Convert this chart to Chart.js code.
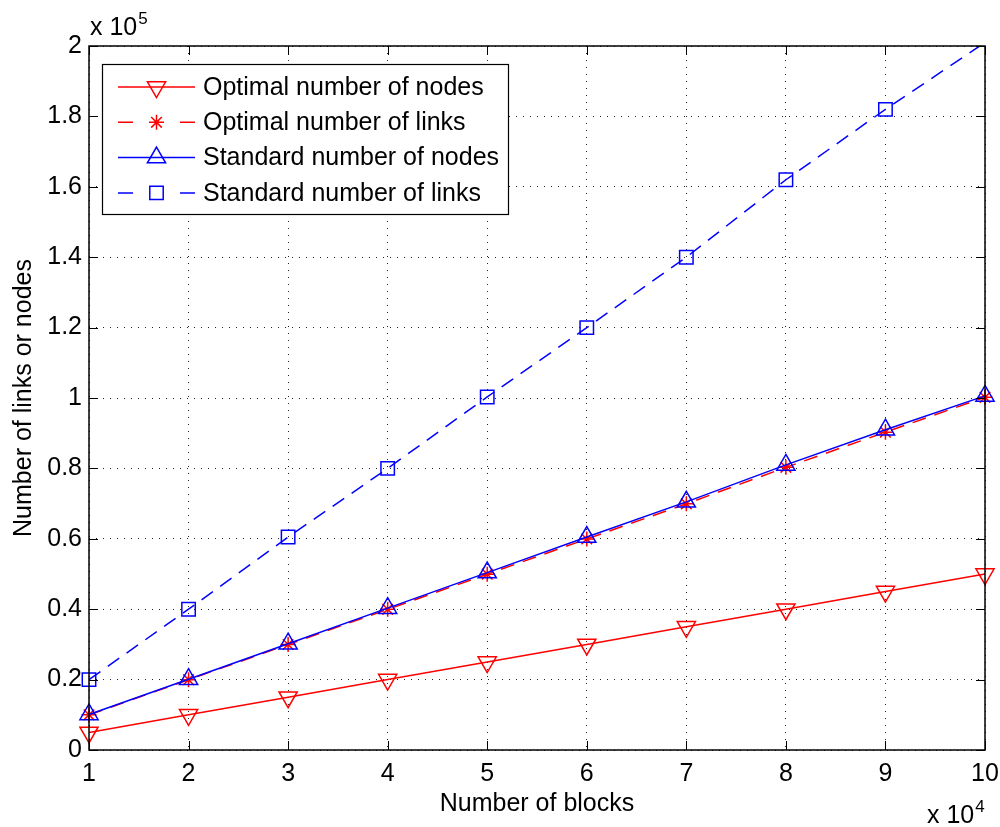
<!DOCTYPE html>
<html>
<head>
<meta charset="utf-8">
<script src="https://cdn.jsdelivr.net/npm/chart.js@4/dist/chart.umd.min.js"></script>
<style>
html,body{margin:0;padding:0;background:#ffffff;}
#wrap{width:1000px;height:827px;}
</style>
</head>
<body>
<div id="wrap"><canvas id="c" width="1000" height="827"></canvas></div>
<script>
// ---- data ----
const blocks        = [10000, 20000, 30000, 40000, 50000, 60000, 70000, 80000, 90000, 100000];
const optimalNodes  = [5000, 10000, 15000, 20000, 25000, 30000, 35000, 40000, 45000, 50000];
const optimalLinks  = [9990, 19980, 29970, 39960, 49950, 59940, 69930, 80300, 90300, 100200];
const standardNodes = [10100, 20100, 30200, 40300, 50400, 60500, 70500, 81000, 91000, 100600];
const standardLinks = [20000, 40000, 60500, 80000, 100300, 120000, 140000, 162000, 182000, 201000];
const seriesLabels  = ['Optimal number of nodes', 'Optimal number of links', 'Standard number of nodes', 'Standard number of links'];
const xTickLabels   = ['1', '2', '3', '4', '5', '6', '7', '8', '9', '10'];
const yTickLabels   = ['0', '0.2', '0.4', '0.6', '0.8', '1', '1.2', '1.4', '1.6', '1.8', '2'];
const xTitle = 'Number of blocks';
const yTitle = 'Number of links or nodes';
const xExponent = '4';
const yExponent = '5';

const X_MIN = 10000, X_MAX = 100000, X_STEP = 10000;
const Y_MIN = 0, Y_MAX = 200000, Y_STEP = 20000;

const FONT = "'Liberation Sans', Arial, Helvetica, sans-serif";
const FS = 25;
const RED = '#ff0000', BLUE = '#0000ff';

function pts(ys) { return blocks.map((x, i) => ({x: x, y: ys[i]})); }
function radiusFor(r) {
  return (ctx) => (ctx.raw && (ctx.raw.y > Y_MAX || ctx.raw.y < Y_MIN)) ? 0 : r;
}
const CLIP = {left: 25, right: 25, top: 0, bottom: 25};

const datasets = [
  {label: seriesLabels[0], data: pts(optimalNodes), borderColor: RED, borderWidth: 1.5, borderDash: [],
   pointStyle: 'triangle', pointRotation: 180, pointRadius: radiusFor(10.5), pointBorderWidth: 1.5,
   pointBorderColor: RED, pointBackgroundColor: 'rgba(0,0,0,0)', order: 4, clip: CLIP},
  {label: seriesLabels[1], data: pts(optimalLinks), borderColor: RED, borderWidth: 1.5, borderDash: [14, 9],
   pointStyle: 'star', pointRotation: 0, pointRadius: radiusFor(7.5), pointBorderWidth: 1.5,
   pointBorderColor: RED, pointBackgroundColor: 'rgba(0,0,0,0)', order: 3, clip: CLIP},
  {label: seriesLabels[2], data: pts(standardNodes), borderColor: BLUE, borderWidth: 1.5, borderDash: [],
   pointStyle: 'triangle', pointRotation: 0, pointRadius: radiusFor(10.5), pointBorderWidth: 1.5,
   pointBorderColor: BLUE, pointBackgroundColor: 'rgba(0,0,0,0)', order: 2, clip: CLIP},
  {label: seriesLabels[3], data: pts(standardLinks), borderColor: BLUE, borderWidth: 1.5, borderDash: [14, 9],
   pointStyle: 'rect', pointRotation: 0, pointRadius: radiusFor(9.5), pointBorderWidth: 1.5,
   pointBorderColor: BLUE, pointBackgroundColor: 'rgba(0,0,0,0)', order: 1, clip: CLIP}
];

function drawMarker(ctx, ds, x, y) {
  const r = typeof ds.pointRadius === 'function' ? ds.pointRadius({raw: {y: 0}}) : ds.pointRadius;
  ctx.save();
  ctx.strokeStyle = ds.pointBorderColor;
  ctx.fillStyle = 'rgba(0,0,0,0)';
  ctx.lineWidth = ds.pointBorderWidth;
  ctx.setLineDash([]);
  if (window.Chart && Chart.helpers && Chart.helpers.drawPoint) {
    Chart.helpers.drawPoint(ctx, {pointStyle: ds.pointStyle, rotation: ds.pointRotation, radius: r, borderWidth: ds.pointBorderWidth}, x, y);
  }
  ctx.restore();
}

const framePlugin = {
  id: 'matlabFrame',
  afterDatasetsDraw(chart) {
    const ctx = chart.ctx;
    const a = chart.chartArea;
    const xs = chart.scales.x, ys = chart.scales.y;
    ctx.save();
    // box
    ctx.strokeStyle = '#000';
    ctx.lineWidth = 1.5;
    ctx.setLineDash([]);
    ctx.strokeRect(a.left, a.top, a.right - a.left, a.bottom - a.top);
    // inward ticks
    const TL = 9;
    ctx.beginPath();
    xs.ticks.forEach(t => {
      const px = Math.round(xs.getPixelForValue(t.value)) + 0.5;
      ctx.moveTo(px, a.bottom); ctx.lineTo(px, a.bottom - TL);
      ctx.moveTo(px, a.top); ctx.lineTo(px, a.top + TL);
    });
    ys.ticks.forEach(t => {
      const py = Math.round(ys.getPixelForValue(t.value)) + 0.5;
      ctx.moveTo(a.left, py); ctx.lineTo(a.left + TL, py);
      ctx.moveTo(a.right, py); ctx.lineTo(a.right - TL, py);
    });
    ctx.lineWidth = 1;
    ctx.stroke();

    // exponent labels
    ctx.fillStyle = '#000';
    ctx.textBaseline = 'alphabetic';
    ctx.textAlign = 'left';
    ctx.font = FS + 'px ' + FONT;
    const yExpX = a.left + 1, yExpY = a.top - 11;
    ctx.fillText('x 10', yExpX, yExpY);
    let w = ctx.measureText('x 10').width;
    ctx.font = '17px ' + FONT;
    ctx.fillText(yExponent, yExpX + w + 1, yExpY - 11);

    ctx.font = FS + 'px ' + FONT;
    const xExpX = a.right - 58, xExpY = a.bottom + 73;
    ctx.fillText('x 10', xExpX, xExpY);
    w = ctx.measureText('x 10').width;
    ctx.font = '17px ' + FONT;
    ctx.fillText(xExponent, xExpX + w + 1, xExpY - 11);

    // legend
    const lx = a.left + 13, ly = a.top + 18, lw = 406, lh = 150;
    ctx.fillStyle = '#fff';
    ctx.fillRect(lx, ly, lw, lh);
    ctx.strokeStyle = '#000';
    ctx.lineWidth = 1.2;
    ctx.strokeRect(lx + 0.5, ly + 0.5, lw, lh);
    const ds = chart.data.datasets;
    ctx.font = FS + 'px ' + FONT;
    ctx.textBaseline = 'middle';
    for (let i = 0; i < ds.length; i++) {
      const d = ds[i];
      const cy = ly + 23 + i * 35.3;
      const x0 = lx + 16, x1 = lx + 93, mx = (x0 + x1) / 2;
      ctx.save();
      ctx.strokeStyle = d.borderColor;
      ctx.lineWidth = d.borderWidth;
      if (d.borderDash && d.borderDash.length) {
        ctx.beginPath();
        ctx.moveTo(x0, cy); ctx.lineTo(x0 + 15, cy);
        ctx.moveTo(x1 - 15, cy); ctx.lineTo(x1, cy);
        ctx.stroke();
      } else {
        ctx.beginPath();
        ctx.moveTo(x0, cy); ctx.lineTo(x1, cy);
        ctx.stroke();
      }
      ctx.restore();
      drawMarker(ctx, d, mx, cy);
      ctx.fillStyle = '#000';
      ctx.fillText(d.label, lx + 101, cy + 1);
    }
    ctx.restore();
  }
};

new Chart(document.getElementById('c'), {
  type: 'line',
  data: {datasets: datasets},
  plugins: [framePlugin],
  options: {
    responsive: false,
    devicePixelRatio: 1,
    animation: false,
    events: [],
    layout: {padding: {top: 46, right: 15, left: 0, bottom: 0}},
    plugins: {legend: {display: false}, tooltip: {enabled: false}, title: {display: false}},
    elements: {line: {tension: 0}},
    scales: {
      x: {
        type: 'linear', min: X_MIN, max: X_MAX,
        afterFit(s) { s.height = 77; s.paddingRight = 0; s.paddingLeft = 0; },
        ticks: {
          stepSize: X_STEP, color: '#000', padding: 9, maxRotation: 0, autoSkip: false,
          font: {family: FONT, size: FS},
          callback: (v) => xTickLabels[Math.round((v - X_MIN) / X_STEP)]
        },
        grid: {color: '#222', lineWidth: 1, drawTicks: false, tickLength: 0},
        border: {display: false, dash: [1, 6]},
        title: {display: true, text: xTitle, color: '#000', font: {family: FONT, size: FS}, padding: {top: 0, bottom: 8}}
      },
      y: {
        type: 'linear', min: Y_MIN, max: Y_MAX,
        afterFit(s) { s.width = 89; s.paddingTop = 0; s.paddingBottom = 0; },
        ticks: {
          stepSize: Y_STEP, color: '#000', padding: 7, autoSkip: false,
          font: {family: FONT, size: FS},
          callback: (v) => yTickLabels[Math.round((v - Y_MIN) / Y_STEP)]
        },
        grid: {color: '#222', lineWidth: 1, drawTicks: false, tickLength: 0},
        border: {display: false, dash: [1, 6]},
        title: {display: true, text: yTitle, color: '#000', font: {family: FONT, size: FS}, padding: {top: 9, bottom: 0}}
      }
    }
  }
});
</script>
</body>
</html>
